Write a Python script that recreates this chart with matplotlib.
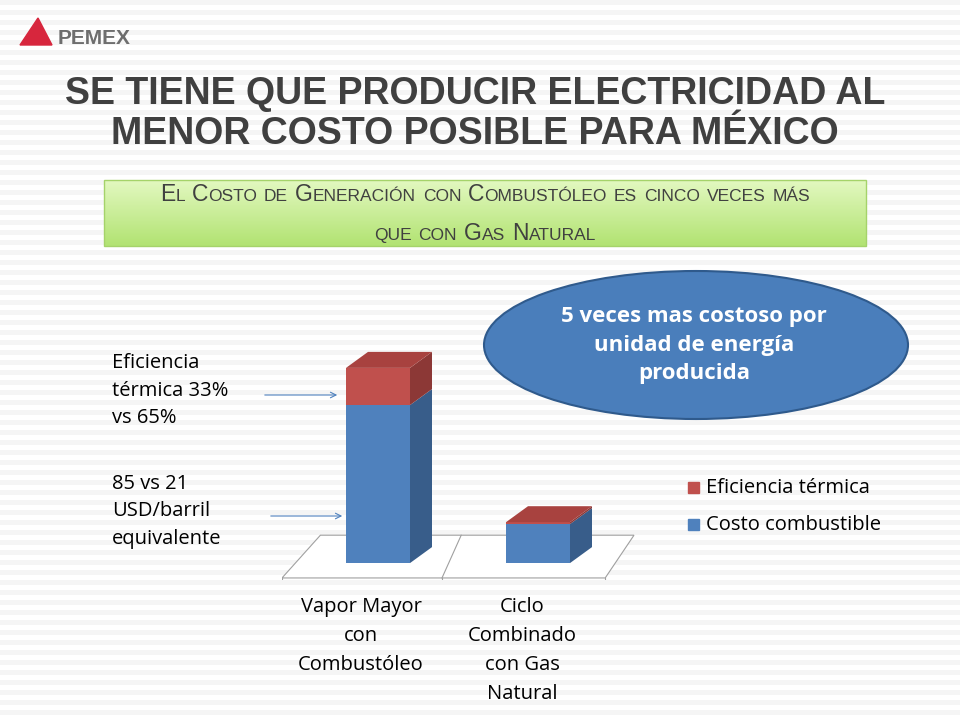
import matplotlib.pyplot as plt
from matplotlib.patches import Polygon, Ellipse, Rectangle
from matplotlib.colors import LinearSegmentedColormap
import numpy as np

categories = ["Vapor Mayor\ncon\nCombustóleo", "Ciclo\nCombinado\ncon Gas\nNatural"]
costo_combustible = [85, 21]
eficiencia_termica = [20, 1]
legend_labels = ["Eficiencia térmica", "Costo combustible"]

BLUE, BLUE_SIDE = "#4F81BD", "#385D8A"
RED, RED_SIDE, RED_TOP = "#C0504D", "#8C3836", "#A8423F"
TXT = "#404040"
FONT = "Open Sans"
FS = 14.5

W, H = 960, 720
fig = plt.figure(figsize=(9.6, 7.2), dpi=100)


def px(x, y):
    return x / W, 1 - y / H


# background stripes
bg = fig.add_axes([0, 0, 1, 1], zorder=-10)
bg.set_xlim(0, W)
bg.set_ylim(H, 0)
bg.axis("off")
for y in range(0, H, 10):
    bg.axhspan(y, y + 5, color="#F5F5F5", lw=0)

# logo
bg.add_patch(Polygon([[20, 45], [38, 18], [52, 45]], closed=True, color="#D7263D"))
fig.text(*px(58, 38), "PEMEX", fontsize=15, fontweight="bold", color="#6E6E6E",
         family="Liberation Sans", va="center")

# title
for y, line in [(94, "SE TIENE QUE PRODUCIR ELECTRICIDAD AL"),
                (134, "MENOR COSTO POSIBLE PARA MÉXICO")]:
    fig.text(*px(475, y), line, fontsize=27, fontweight="bold", color=TXT,
             family="Liberation Sans", ha="center", va="center")

# green box
grad = np.linspace(0, 1, 50).reshape(-1, 1)
cm = LinearSegmentedColormap.from_list("g", ["#E2F8C0", "#B2E372"])
bg.imshow(grad, extent=[104, 866, 246, 180], cmap=cm, aspect="auto", zorder=1)
bg.add_patch(Rectangle((104, 180), 762, 66, fill=False, ec="#A5D36A", lw=1, zorder=2))

renderer = fig.canvas.get_renderer()


def small_caps(text, cx, cy, big=16.5, small=12.5):
    # upper-case letters big, lower-case letters as small capitals
    pieces = []
    for word in text.split(" "):
        if word[0].isupper():
            pieces.append((word[0], big))
            rest = word[1:]
        else:
            rest = word
        if rest:
            pieces.append((rest.upper(), small))
        pieces.append((" ", big))
    pieces = pieces[:-1]
    widths = []
    for s, sz in pieces:
        if s == " ":
            widths.append(sz * 0.42)
            continue
        t = bg.text(0, 0, s, fontsize=sz, family="Liberation Sans")
        widths.append(t.get_window_extent(renderer).width)
        t.remove()
    x = cx - sum(widths) / 2
    for (s, sz), w in zip(pieces, widths):
        bg.text(x, cy, s, fontsize=sz, family="Liberation Sans", color=TXT,
                va="baseline", ha="left", zorder=3)
        x += w


small_caps("El Costo de Generación con Combustóleo es cinco veces más", 485, 201)
small_caps("que con Gas Natural", 485, 240)

# chart
ax = fig.add_axes([282 / W, 1 - 580 / H, 368 / W, 240 / H])
ax.set_xlim(0, 2.3)
ax.set_ylim(-9.1, 120)
ax.axis("off")

dx, dy = 0.1375, 8.6
ax.add_patch(Polygon([[0, -8], [2.02, -8], [2.2, 15], [0.24, 15]], closed=True,
                     fc="white", ec="#A0A0A0", lw=0.8, zorder=0))
ax.plot([1.0, 1.12], [-8, 15], color="#A0A0A0", lw=0.8, zorder=0)
for xt in [0, 1.0, 2.02]:
    ax.plot([xt, xt], [-8, -12], color="#A0A0A0", lw=0.8)

xs = np.array([0.6, 1.6])
bw = 0.4
ax.bar(xs, costo_combustible, bw, color=BLUE, zorder=2)
ax.bar(xs, eficiencia_termica, bw, bottom=costo_combustible, color=RED, zorder=2)
for x, b, r in zip(xs, costo_combustible, eficiencia_termica):
    xr = x + bw / 2
    ax.add_patch(Polygon([[xr, 0], [xr + dx, dy], [xr + dx, b + dy], [xr, b]], fc=BLUE_SIDE, zorder=2))
    ax.add_patch(Polygon([[xr, b], [xr + dx, b + dy], [xr + dx, b + r + dy], [xr, b + r]], fc=RED_SIDE, zorder=2))
    top = b + r
    ax.add_patch(Polygon([[x - bw / 2, top], [xr, top], [xr + dx, top + dy], [x - bw / 2 + dx, top + dy]],
                         fc=RED_TOP, zorder=2))

for x, lab in zip([361, 522], categories):
    fig.text(*px(x, 597), lab, fontsize=FS, family=FONT, color="black",
             ha="center", va="top", linespacing=1.6)

# legend
bg.add_patch(Rectangle((688, 482), 11, 11, color=RED))
bg.add_patch(Rectangle((688, 519), 11, 11, color=BLUE))
fig.text(*px(706, 488), legend_labels[0], fontsize=FS, family=FONT, va="center")
fig.text(*px(706, 525), legend_labels[1], fontsize=FS, family=FONT, va="center")

# annotations
fig.text(*px(112, 353), "Eficiencia\ntérmica 33%\nvs 65%", fontsize=FS, family=FONT,
         va="top", linespacing=1.5)
fig.text(*px(112, 474), "85 vs 21\nUSD/barril\nequivalente", fontsize=FS, family=FONT,
         va="top", linespacing=1.5)
for y, x0, x1 in [(395, 262, 340), (516, 268, 345)]:
    bg.annotate("", xy=(x1, y), xytext=(x0, y),
                arrowprops=dict(arrowstyle="->", color="#4F81BD", lw=0.8))

# ellipse
bg.add_patch(Ellipse((696, 345), 424, 148, fc="#4A7EBB", ec="#2F5A8C", lw=1.5, zorder=3))
fig.text(*px(694, 345), "5 veces mas costoso por\nunidad de energía\nproducida", fontsize=16,
         fontweight="bold", family=FONT, color="white", ha="center", va="center",
         linespacing=1.45, zorder=5)

fig.savefig("out.png", dpi=100)
